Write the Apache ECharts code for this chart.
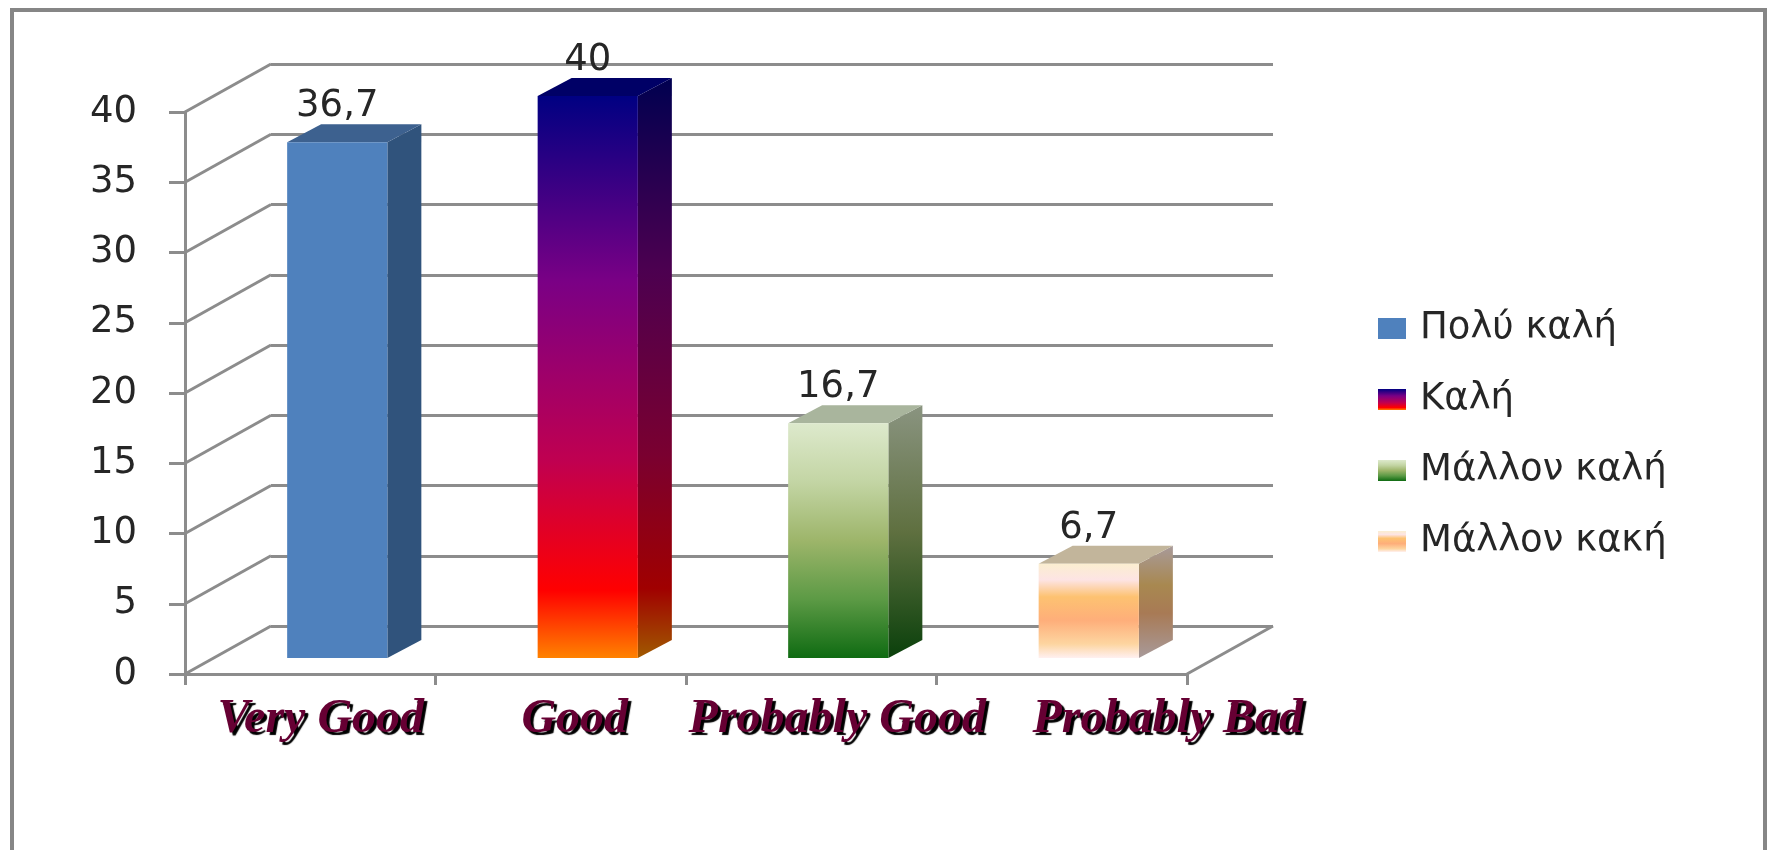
<!DOCTYPE html>
<html><head><meta charset="utf-8">
<style>html,body{margin:0;padding:0;background:#fff;overflow:hidden}#c{width:1768px;height:850px}</style>
<script src="https://cdn.jsdelivr.net/npm/echarts@6/dist/echarts.min.js"></script>
</head><body><div id="c"></div>
<script>
const categories = ['Very Good', 'Good', 'Probably Good', 'Probably Bad'];
const seriesNames = ['Πολύ καλή', 'Καλή', 'Μάλλον καλή', 'Μάλλον κακή'];
const values = [36.7, 40, 16.7, 6.7];
const yTicks = [0, 5, 10, 15, 20, 25, 30, 35, 40];
const labelShifts = [21, 28, 52, 212];

const grad = stops => new echarts.graphic.LinearGradient(0, 0, 0, 1, stops.map(s => ({offset: s[0], color: s[1]})));
const frontStops = [
  [[0, '#4f81bd'], [1, '#4f81bd']],
  [[0, '#000082'], [0.33, '#7a0085'], [0.65, '#c00050'], [0.88, '#ff0000'], [1, '#ff8200']],
  [[0, '#dde9cc'], [0.25, '#c3d5a4'], [0.5, '#9db56a'], [0.75, '#5c9a45'], [1, '#0f6b12']],
  [[0, '#fbeed0'], [0.17, '#fde4e4'], [0.35, '#fdc271'], [0.6, '#feae7a'], [0.85, '#fdd5a0'], [1, '#fff0f0']]
];
const sideStops = [
  [[0, '#30537c'], [1, '#30537c']],
  [[0, '#000050'], [0.33, '#4c0050'], [0.65, '#7a0030'], [0.88, '#a00000'], [1, '#a05a00']],
  [[0, '#8a9480'], [0.5, '#5f7040'], [1, '#0a400b']],
  [[0, '#a89a9a'], [0.35, '#a88850'], [0.6, '#a87a55'], [1, '#a89a9a']]
];
const topColors = ['#3d618f', '#000066', '#a9b59d', '#c2b59b'];

const GRID_L = 185, GRID_T = 112, GRID_W = 1002, GRID_H = 562;
const WALL_DX = 86, WALL_DY = -48;
const BAR_DX = 27, BAR_DY = -16, DEPTH_DX = 34, DEPTH_DY = -18;
const LINE = '#8c8c8c', LINE_W = 3;

function wallItem(params, api) {
  const v = api.value(0), cs = params.coordSys, y = api.coord([0, v])[1];
  const lines = [{type: 'line', shape: {x1: cs.x, y1: y, x2: cs.x + WALL_DX, y2: y + WALL_DY}, style: {stroke: LINE, lineWidth: LINE_W}}];
  if (v === 0) lines.push({type: 'line', shape: {x1: cs.x + cs.width, y1: y, x2: cs.x + cs.width + WALL_DX, y2: y + WALL_DY}, style: {stroke: LINE, lineWidth: LINE_W}});
  return {type: 'group', children: lines};
}

function barItem(i) {
  return function (params, api) {
    const cat = api.value(0), val = api.value(1);
    const top = api.coord([cat, val]), base = api.coord([cat, 0]);
    const w = api.size([1, 0])[0] * 0.4;
    const x0 = top[0] + BAR_DX - w / 2, x1 = x0 + w, yT = top[1] + BAR_DY, yB = base[1] + BAR_DY;
    return {type: 'group', children: [
      {type: 'polygon', shape: {points: [[x1, yT], [x1 + DEPTH_DX, yT + DEPTH_DY], [x1 + DEPTH_DX, yB + DEPTH_DY], [x1, yB]]}, style: {fill: grad(sideStops[i])}},
      {type: 'polygon', shape: {points: [[x0, yT], [x0 + DEPTH_DX, yT + DEPTH_DY], [x1 + DEPTH_DX, yT + DEPTH_DY], [x1, yT]]}, style: {fill: topColors[i]}},
      {type: 'rect', shape: {x: x0, y: yT, width: w, height: yB - yT}, style: {fill: grad(frontStops[i])}},
      {type: 'text', x: x0 + w / 2, y: yT + DEPTH_DY + 1, style: {text: String(val).replace('.', ','), font: '37px "DejaVu Sans"', fill: '#262626', textAlign: 'center', textVerticalAlign: 'bottom'}}
    ]};
  };
}

const chart = echarts.init(document.getElementById('c'), null, {renderer: 'canvas'});
chart.setOption({
  animation: false,
  backgroundColor: '#fff',
  graphic: [{type: 'rect', silent: true, z: -1, shape: {x: 12, y: 10, width: 1753, height: 880}, style: {fill: 'none', stroke: '#868686', lineWidth: 4}}],
  legend: {
    orient: 'vertical', left: 1373, top: 305, itemWidth: 28, itemHeight: 21, itemGap: 34, selectedMode: false, icon: 'rect',
    data: seriesNames,
    textStyle: {fontFamily: 'DejaVu Sans', fontSize: 37, color: '#262626', padding: [0, 0, 0, 9]}
  },
  grid: [
    {left: GRID_L, top: GRID_T, width: GRID_W, height: GRID_H},
    {left: GRID_L + WALL_DX, top: GRID_T + WALL_DY, width: GRID_W, height: GRID_H}
  ],
  xAxis: [
    {type: 'category', gridIndex: 0, data: categories.map((c, i) => ({value: c, textStyle: {padding: [0, 0, 0, labelShifts[i]]}})),
      axisLine: {show: true, lineStyle: {color: LINE, width: LINE_W}},
      axisTick: {show: true, length: 11, alignWithLabel: false, lineStyle: {color: LINE, width: LINE_W}},
      axisLabel: {interval: 0, margin: 22, fontFamily: 'Liberation Serif', fontStyle: 'italic', fontWeight: 'bold', fontSize: 48, color: '#660033', textShadowColor: '#000', textShadowOffsetX: 3, textShadowOffsetY: 3, textShadowBlur: 1}},
    {type: 'category', gridIndex: 1, data: categories, show: false}
  ],
  yAxis: [
    {type: 'value', gridIndex: 0, min: 0, max: 40, interval: 5,
      axisLine: {show: true, lineStyle: {color: LINE, width: LINE_W}},
      axisTick: {show: true, length: 16, lineStyle: {color: LINE, width: LINE_W}},
      splitLine: {show: false},
      axisLabel: {margin: 48, fontFamily: 'DejaVu Sans', fontSize: 37, color: '#262626'}},
    {type: 'value', gridIndex: 1, min: 0, max: 40, interval: 5,
      axisLine: {show: false}, axisTick: {show: false}, axisLabel: {show: false},
      splitLine: {show: true, lineStyle: {color: LINE, width: LINE_W}}}
  ],
  series: [
    {type: 'custom', name: 'walls', xAxisIndex: 0, yAxisIndex: 0, silent: true, z: 1, data: yTicks.map(v => [v]), encode: {y: 0}, renderItem: wallItem}
  ].concat(seriesNames.map((n, i) => ({
    type: 'custom', name: n, xAxisIndex: 0, yAxisIndex: 0, z: 3,
    itemStyle: {color: grad(frontStops[i])},
    data: [[i, values[i]]], encode: {x: 0, y: 1}, renderItem: barItem(i)
  })))
});
</script></body></html>
